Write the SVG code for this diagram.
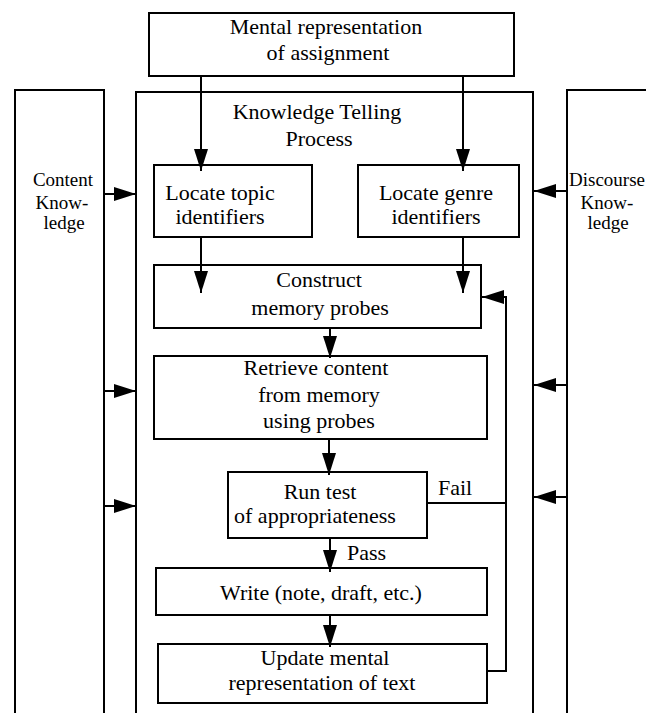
<svg xmlns="http://www.w3.org/2000/svg" width="646" height="713" viewBox="0 0 646 713">
  <style>
    .box { fill: #ffffff; stroke: #000000; stroke-width: 2; }
    .frame { fill: none; stroke: #000000; stroke-width: 2; }
    .wire { fill: none; stroke: #000000; stroke-width: 2; }
    text { font-family: "Liberation Serif", "Times New Roman", serif; font-size: 22px; fill: #000000; text-anchor: middle; }
    .side { font-size: 19px; }
    .tag { text-anchor: start; }
  </style>
  <defs>
    <marker id="head" markerUnits="userSpaceOnUse" markerWidth="22" markerHeight="14" refX="22" refY="7" orient="auto">
      <path d="M0,0 L22,7 L0,14 Z" fill="#000000"/>
    </marker>
  </defs>
  <rect width="646" height="713" fill="#ffffff"/>

  <!-- side knowledge stores and process frame (open at bottom) -->
  <g id="content-knowledge">
    <path class="frame" d="M15,713 V90 H104 V713"/>
    <text class="side" x="63" y="186">Content</text>
    <text class="side" x="62" y="209">Know-</text>
    <text class="side" x="64" y="229">ledge</text>
  </g>
  <g id="discourse-knowledge">
    <path class="frame" d="M567,713 V90 H650"/>
    <text class="side tag" x="569" y="186">Discourse</text>
    <text class="side" x="607" y="209">Know-</text>
    <text class="side" x="608" y="229">ledge</text>
  </g>
  <g id="knowledge-telling">
    <path class="frame" d="M136,713 V92 H533 V713"/>
    <text x="317" y="119">Knowledge Telling</text>
    <text x="319" y="146">Process</text>
  </g>

  <g id="assignment">
    <rect class="box" x="149" y="13" width="365" height="63"/>
    <text x="326" y="34">Mental representation</text>
    <text x="328" y="60">of assignment</text>
  </g>

  <g id="topic">
    <rect class="box" x="154" y="165" width="158" height="72"/>
    <text x="220" y="200">Locate topic</text>
    <text x="220" y="224">identifiers</text>
  </g>
  <g id="genre">
    <rect class="box" x="358" y="165" width="161" height="72"/>
    <text x="436" y="200">Locate genre</text>
    <text x="436" y="224">identifiers</text>
  </g>

  <g id="construct">
    <rect class="box" x="154" y="265" width="327" height="63"/>
    <text x="319" y="287">Construct</text>
    <text x="320" y="315">memory probes</text>
  </g>
  <g id="retrieve">
    <rect class="box" x="154" y="356" width="333" height="83"/>
    <text x="316" y="375">Retrieve content</text>
    <text x="319" y="402">from memory</text>
    <text x="319" y="428">using probes</text>
  </g>
  <g id="test">
    <rect class="box" x="228" y="472" width="199" height="66"/>
    <text x="320" y="499">Run test</text>
    <text x="315" y="523">of appropriateness</text>
  </g>
  <g id="write">
    <rect class="box" x="156" y="568" width="331" height="47"/>
    <text x="321" y="600">Write (note, draft, etc.)</text>
  </g>
  <g id="update">
    <rect class="box" x="158" y="644" width="329" height="59"/>
    <text x="325" y="665">Update mental</text>
    <text x="322" y="690">representation of text</text>
  </g>

  <g id="connectors">
    <path class="wire" d="M201,76 V171" marker-end="url(#head)"/>
    <path class="wire" d="M463,76 V171" marker-end="url(#head)"/>
    <path class="wire" d="M201,237 V293" marker-end="url(#head)"/>
    <path class="wire" d="M463,237 V293" marker-end="url(#head)"/>
    <path class="wire" d="M330,328 V358" marker-end="url(#head)"/>
    <path class="wire" d="M329,439 V475" marker-end="url(#head)"/>
    <path class="wire" d="M330,538 V572" marker-end="url(#head)"/>
    <path class="wire" d="M330,615 V647" marker-end="url(#head)"/>
    <path class="wire" d="M487,671 H506 V297 H482" marker-end="url(#head)"/>
    <path class="wire" d="M427,503 H506"/>
    <path class="wire" d="M104,194 H136" marker-end="url(#head)"/>
    <path class="wire" d="M104,391 H136" marker-end="url(#head)"/>
    <path class="wire" d="M104,506 H136" marker-end="url(#head)"/>
    <path class="wire" d="M567,191 H534" marker-end="url(#head)"/>
    <path class="wire" d="M567,385 H534" marker-end="url(#head)"/>
    <path class="wire" d="M567,497 H534" marker-end="url(#head)"/>
    <text class="tag" x="438" y="495">Fail</text>
    <text class="tag" x="347" y="560">Pass</text>
  </g>
</svg>
